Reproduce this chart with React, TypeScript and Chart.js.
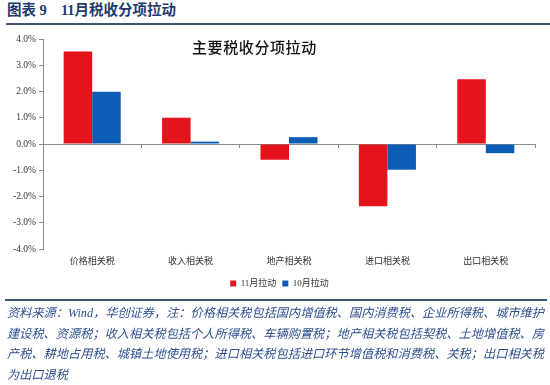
import React, { useEffect, useRef } from 'react';
import { Chart, registerables } from 'chart.js';

Chart.register(...registerables);

const categories = ['价格相关税', '收入相关税', '地产相关税', '进口相关税', '出口相关税'];
const novValues = [3.52, 1.0, -0.6, -2.37, 2.47];
const octValues = [1.99, 0.09, 0.26, -0.98, -0.35];
const seriesNames = ['11月拉动', '10月拉动'];
const yTicks = [-4, -3, -2, -1, 0, 1, 2, 3, 4];

const headerLabel = '图表 9';
const headerTitle = '11月税收分项拉动';
const chartTitle = '主要税收分项拉动';
const noteLines = [
  '资料来源：Wind，华创证券，注：价格相关税包括国内增值税、国内消费税、企业所得税、城市维护',
  '建设税、资源税；收入相关税包括个人所得税、车辆购置税；地产相关税包括契税、土地增值税、房',
  '产税、耕地占用税、城镇土地使用税；进口相关税包括进口环节增值税和消费税、关税；出口相关税',
  '为出口退税',
];

const RED = '#E5131C';
const BLUE = '#0D5CB5';
const AXIS = '#8C8C8C';
const FONT = '"Liberation Serif", "Noto Sans CJK SC", serif';

const legendShift = {
  id: 'legendShift',
  afterLayout(chart: any) {
    const lg = chart.legend;
    if (lg) {
      lg.left += 12;
      lg.right += 12;
    }
  },
};

export default function App() {
  const ref = useRef<HTMLCanvasElement>(null);

  useEffect(() => {
    if (!ref.current) return;
    const chart = new Chart(ref.current, {
      type: 'bar',
      data: {
        labels: categories,
        datasets: [
          { label: seriesNames[0], data: novValues, backgroundColor: RED, xAxisID: 'x', yAxisID: 'y' },
          { label: seriesNames[1], data: octValues, backgroundColor: BLUE, xAxisID: 'x', yAxisID: 'y' },
        ],
      },
      plugins: [legendShift],
      options: {
        animation: false,
        responsive: false,
        maintainAspectRatio: false,
        datasets: { bar: { barPercentage: 1, categoryPercentage: 0.58 } },
        layout: { padding: { left: 0, right: 15, top: 9, bottom: 2 } },
        plugins: {
          tooltip: { enabled: false },
          title: { display: false },
          legend: {
            position: 'bottom',
            labels: {
              boxWidth: 6,
              boxHeight: 6,
              padding: 6,
              color: '#333',
              font: { family: FONT, size: 9 },
            },
          },
        },
        scales: {
          x: {
            position: 'bottom',
            grid: { display: false, drawTicks: false, tickLength: 0 },
            border: { display: false },
            ticks: { color: '#333', font: { family: FONT, size: 9 }, padding: 7, maxRotation: 0 },
            afterFit: (s: any) => { s.height = 24; },
          },
          x0: {
            type: 'category',
            position: { y: 0 },
            grid: { offset: true, drawOnChartArea: false, drawTicks: true, tickLength: 3, color: AXIS },
            border: { display: true, color: AXIS, width: 1 },
            ticks: { display: false },
          },
          y: {
            min: -4,
            max: 4,
            afterBuildTicks: (s: any) => { s.ticks = yTicks.map((v) => ({ value: v })); },
            ticks: {
              color: '#333',
              font: { family: FONT, size: 9.5 },
              padding: 3,
              callback: (v: any) => Number(v).toFixed(1) + '%',
            },
            grid: { drawOnChartArea: false, drawTicks: true, tickLength: 4, color: AXIS },
            border: { display: true, color: AXIS, width: 1 },
            afterFit: (s: any) => { s.width = 43; },
          },
        },
      },
    });
    return () => chart.destroy();
  }, []);

  return (
    <div style={{ position: 'fixed', left: 0, top: 0, width: 550, height: 385, background: '#fff', overflow: 'hidden' }}>
      <div style={{ position: 'absolute', left: 7, top: 2, fontFamily: '"Liberation Serif", "Noto Sans CJK SC", serif', fontWeight: 700, fontSize: 14.5, color: '#1F3A6B', whiteSpace: 'nowrap', lineHeight: '17px' }}>
        <span>{headerLabel}</span>
        <span style={{ marginLeft: 14 }}>{headerTitle}</span>
      </div>
      <div style={{ position: 'absolute', left: 6, top: 23, width: 544, height: 2, background: '#3F5578' }} />
      <canvas ref={ref} width={550} height={270} style={{ position: 'absolute', left: 0, top: 30, width: 550, height: 270 }} />
      <div style={{ position: 'absolute', left: 192, top: 38, fontFamily: '"Noto Sans CJK SC", serif', fontWeight: 500, fontSize: 15, letterSpacing: 0.6, color: '#111', whiteSpace: 'nowrap', lineHeight: '18px' }}>
        {chartTitle}
      </div>
      <div style={{ position: 'absolute', left: 5, top: 299, width: 542, height: 2, background: '#3F5578' }} />
      <div style={{ position: 'absolute', left: 7, top: 303, width: 537, fontFamily: '"Liberation Serif", "Noto Sans CJK SC", serif', fontStyle: 'italic', fontSize: 12.2, color: '#2E4F8F', lineHeight: '20.7px' }}>
        {noteLines.map((l, i) => (
          <div key={i} style={{ whiteSpace: 'nowrap', overflow: 'visible', textAlign: 'left', textAlignLast: i < noteLines.length - 1 ? 'justify' : 'left', width: 537 } as any}>{l}</div>
        ))}
      </div>
    </div>
  );
}
